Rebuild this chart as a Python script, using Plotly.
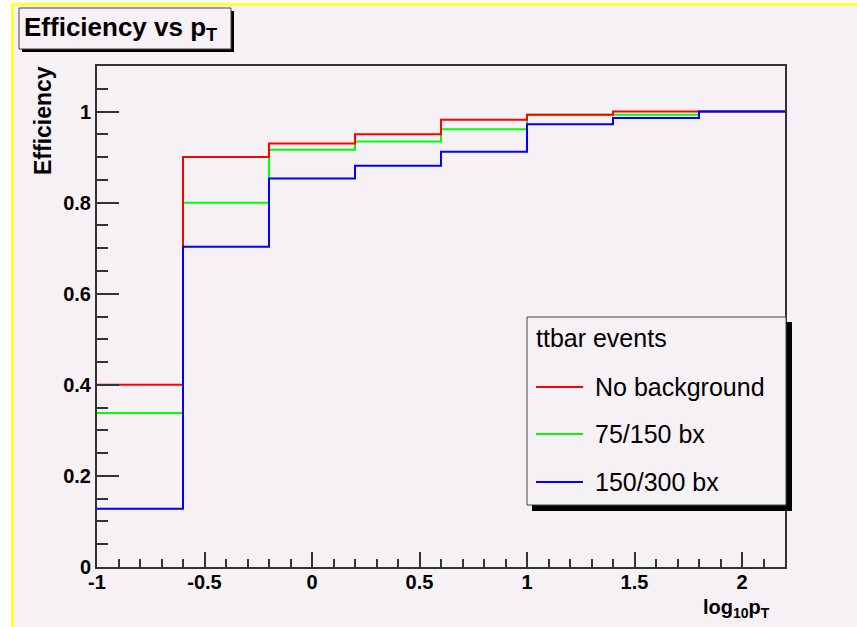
import plotly.graph_objects as go

# Efficiency per log10(pT) bin for ttbar events
bin_edges = [-1.0, -0.6, -0.2, 0.2, 0.6, 1.0, 1.4, 1.8, 2.2]
eff_no_background = [0.40, 0.90, 0.93, 0.95, 0.982, 0.993, 1.0, 1.0]
eff_75_150_bx = [0.338, 0.80, 0.916, 0.934, 0.961, 0.993, 0.993, 1.0]
eff_150_300_bx = [0.128, 0.703, 0.853, 0.881, 0.912, 0.972, 0.986, 1.0]

series_names = ["No background", "75/150 bx", "150/300 bx"]
series_values = [eff_no_background, eff_75_150_bx, eff_150_300_bx]
series_colors = ["#ff0000", "#00ff00", "#0000ff"]

x_tick_values = [-1, -0.5, 0, 0.5, 1, 1.5, 2]
x_tick_labels = ["-1", "-0.5", "0", "0.5", "1", "1.5", "2"]
y_tick_values = [0, 0.2, 0.4, 0.6, 0.8, 1.0]
y_tick_labels = ["0", "0.2", "0.4", "0.6", "0.8", "1"]

W, H = 857, 627
PL, PT, PW, PH = 97, 66, 688, 501
BG = "#f5f1f5"
FRAME = "#333333"
FONT = "Liberation Sans, Arial, sans-serif"


def fx(px):
    return (px - PL) / PW


def fy(py):
    return (PT + PH - py) / PH


def step(values):
    return list(values) + [values[-1]]


fig = go.Figure()

# histogram outlines (green first so the red and blue steps sit on top)
for idx in (1, 0, 2):
    fig.add_trace(go.Scatter(
        x=bin_edges, y=step(series_values[idx]), mode="lines",
        line=dict(shape="hv", color=series_colors[idx], width=2),
        name=series_names[idx], showlegend=False, hoverinfo="skip",
    ))

axis_font = dict(family=FONT, size=20, color="black", weight="bold")

fig.update_xaxes(
    range=[bin_edges[0], bin_edges[-1]], tickmode="array",
    tickvals=x_tick_values, ticktext=x_tick_labels,
    ticks="inside", ticklen=15, tickwidth=2, tickcolor=FRAME,
    showline=True, linecolor=FRAME, linewidth=2, mirror=True,
    showgrid=False, zeroline=False, tickfont=axis_font,
    ticklabelstandoff=-4,
    minor=dict(dtick=0.1, tick0=-1, ticks="inside", ticklen=8,
               tickwidth=1.5, tickcolor=FRAME, showgrid=False),
)
fig.update_yaxes(
    range=[0, 1.1], tickmode="array",
    tickvals=y_tick_values, ticktext=y_tick_labels,
    ticks="inside", ticklen=22, tickwidth=2, tickcolor=FRAME,
    showline=True, linecolor=FRAME, linewidth=2, mirror=True,
    showgrid=False, zeroline=False, tickfont=axis_font,
    minor=dict(dtick=0.05, tick0=0, ticks="inside", ticklen=11,
               tickwidth=1.5, tickcolor=FRAME, showgrid=False),
)

shapes = []


def rect(x0, y0, x1, y1, fill, line_color=None, line_width=0, layer="above"):
    shapes.append(dict(
        type="rect", xref="paper", yref="paper",
        x0=fx(x0), x1=fx(x1), y0=fy(y1), y1=fy(y0),
        fillcolor=fill, layer=layer,
        line=dict(color=line_color or fill, width=line_width),
    ))


# canvas edge: white margin and yellow border on top and left
rect(0, 0, W, 3, "white", layer="below")
rect(0, 0, 11, H, "white", layer="below")
rect(11, 3, W, 6, "#ffff33", layer="below")
rect(11, 3, 14, H, "#ffff33", layer="below")

# title box with drop shadow
rect(22, 11, 234, 52, "black")
rect(19, 8, 231, 49, BG, "#444444", 1)

# legend box with drop shadow
rect(532, 322, 792, 511, "black")
rect(527, 317, 786, 505, BG, "#444444", 1)

legend_rows = [387, 434, 482]
for row, color in zip(legend_rows, series_colors):
    shapes.append(dict(
        type="line", xref="paper", yref="paper",
        x0=fx(536), x1=fx(583), y0=fy(row), y1=fy(row),
        line=dict(color=color, width=2), layer="above",
    ))

annotations = [
    dict(text="<b>Efficiency vs p<sub>T</sub></b>", x=fx(22), y=fy(28),
         xanchor="left", yanchor="middle",
         font=dict(family=FONT, size=26, color="black")),
    dict(text="<b>Efficiency</b>", x=fx(43), y=fy(121), textangle=-90,
         xanchor="center", yanchor="middle",
         font=dict(family=FONT, size=23, color="black")),
    dict(text="<b>log<sub>10</sub>p<sub>T</sub></b>", x=fx(772), y=fy(608),
         xanchor="right", yanchor="middle",
         font=dict(family=FONT, size=20, color="black")),
    dict(text="ttbar events", x=fx(534), y=fy(338),
         xanchor="left", yanchor="middle",
         font=dict(family=FONT, size=25, color="black")),
]
for row, name in zip(legend_rows, series_names):
    annotations.append(dict(
        text=name, x=fx(593), y=fy(row), xanchor="left", yanchor="middle",
        font=dict(family=FONT, size=25, color="black"),
    ))
for a in annotations:
    a.update(xref="paper", yref="paper", showarrow=False)

fig.update_layout(
    width=W, height=H,
    margin=dict(l=PL, r=W - PL - PW, t=PT, b=H - PT - PH, pad=0),
    paper_bgcolor=BG, plot_bgcolor=BG,
    shapes=shapes, annotations=annotations,
    showlegend=False,
)

fig.write_html("out.html")
